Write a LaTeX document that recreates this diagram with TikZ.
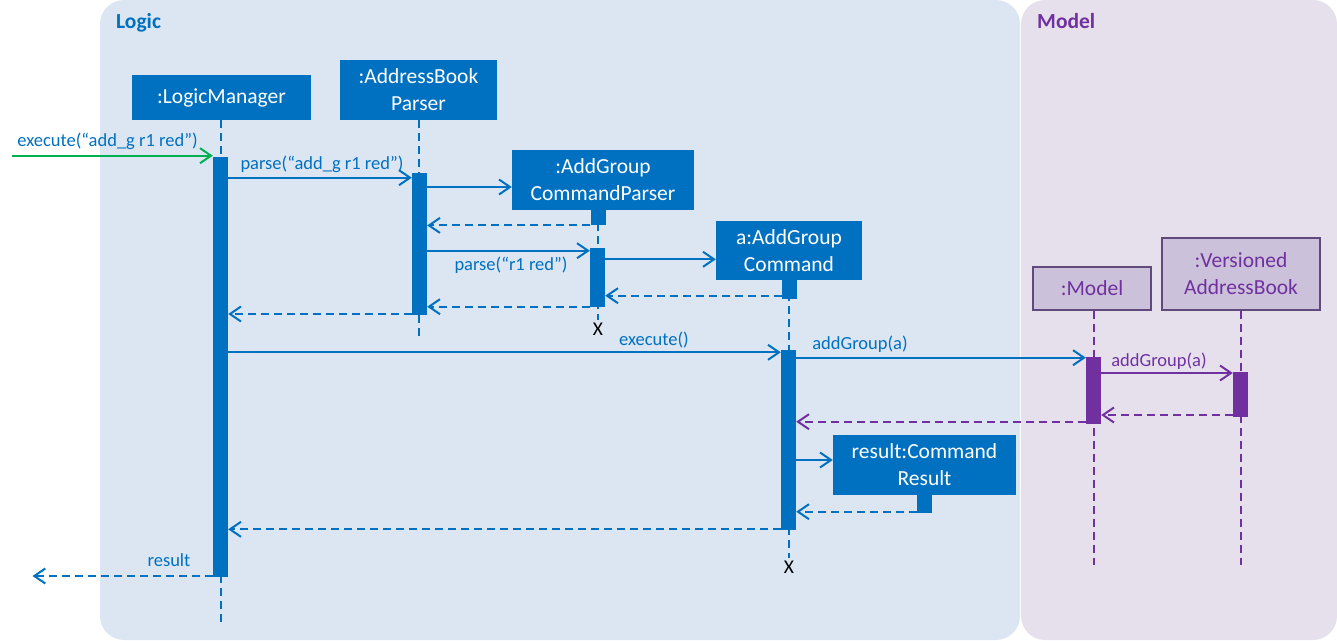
\documentclass[tikz,border=0pt]{standalone}
\usepackage{fontspec}
\setmainfont{Carlito}
\usetikzlibrary{arrows.meta}
\definecolor{cblue}{HTML}{0070C0}
\definecolor{cpurple}{HTML}{7030A0}
\definecolor{cgreen}{HTML}{00B050}
\definecolor{logicbg}{HTML}{DCE6F2}
\definecolor{modelbg}{HTML}{E6E0EC}
\definecolor{mfill}{HTML}{CCC1DA}
\definecolor{mborder}{HTML}{604A7B}
\begin{document}
\begin{tikzpicture}[x=1pt,y=-1pt,
  bluebox/.style={fill=cblue, text=white, inner sep=0pt, align=center, font=\fontsize{21.5}{27}\selectfont},
  purplebox/.style={fill=mfill, draw=mborder, line width=2pt, text=cpurple, inner sep=0pt, align=center, font=\fontsize{21.5}{27}\selectfont},
  act/.style={fill=cblue, minimum width=15pt, inner sep=0pt, anchor=north},
  pact/.style={act, fill=cpurple},
  life/.style={draw=cblue, line width=2pt, dash pattern=on 8pt off 5pt},
  plife/.style={life, draw=cpurple},
  msg/.style={draw=cblue, line width=2pt, -{Straight Barb[length=11pt,width=15pt]}},
  ret/.style={msg, dash pattern=on 8pt off 5pt},
  pmsg/.style={msg, draw=cpurple},
  pret/.style={ret, draw=cpurple},
  gmsg/.style={msg, draw=cgreen},
  lbl/.style={text=cblue, inner sep=0pt, font=\fontsize{18.5}{22}\selectfont},
  plbl/.style={lbl, text=cpurple},
  xmark/.style={text=black, inner sep=0pt, font=\fontsize{19.5}{22}\selectfont},
  title/.style={inner sep=0pt, anchor=base west, font=\fontsize{21.5}{26}\selectfont\bfseries}
]
\useasboundingbox (0,0) rectangle (1337,640);
% panels
\fill[logicbg, rounded corners=24pt] (100,0) rectangle (1020,640);
\fill[modelbg, rounded corners=24pt] (1021,0) rectangle (1337,640);
\node[title, text=cblue] (tlogic) at (116,28) {Logic};
\node[title, text=cpurple] (tmodel) at (1037,28) {Model};

% participant boxes
\node[bluebox, minimum width=179pt, minimum height=45pt] (lm) at (221.5,97.5) {:LogicManager};
\node[bluebox, minimum width=157pt, minimum height=60pt] (abp) at (418.5,90) {:AddressBook\\Parser};
\node[bluebox, minimum width=182pt, minimum height=60pt] (agcp) at (603,180) {:AddGroup\\CommandParser};
\node[bluebox, minimum width=146pt, minimum height=59pt] (agc) at (789,250.5) {a:AddGroup\\Command};
\node[purplebox, minimum width=118pt, minimum height=43pt] (model) at (1092,288.2) {:Model};
\node[purplebox, minimum width=158pt, minimum height=72pt] (vab) at (1241,273.7) {:Versioned\\AddressBook};

% lifeline ends
\coordinate (lmEnd) at (220.5,626);
\coordinate (abpEnd) at (419,337);
\coordinate (agcpEnd) at (598,320);
\coordinate (agcEnd) at (789,558);
\coordinate (modelEnd) at (1094,565);
\coordinate (vabEnd) at (1240.5,565);

% lifelines
\draw[life] (lmEnd |- lm.south) -- (lmEnd);
\draw[life] (abpEnd |- abp.south) -- (abpEnd);
\draw[life] (agcpEnd |- agcp.south) -- (agcpEnd);
\draw[life] (agcEnd |- agc.south) -- (agcEnd);
\draw[plife] (modelEnd |- model.south) -- (modelEnd);
\draw[plife] (vabEnd |- vab.south) -- (vabEnd);

\node[xmark] (x1) at (598,329) {X};
\node[xmark] (x2) at (789,567) {X};

% activations
\node[act, minimum height=420pt] (lmA) at (220.5,157) {};
\node[act, minimum height=142pt] (abpA) at (419.5,173) {};
\node[act, minimum height=15pt] (agcpS) at (598,210) {};
\node[act, minimum height=59pt] (agcpA) at (597.5,248) {};
\node[act, minimum height=18.7pt] (agcS) at (789.5,280) {};
\node[act, minimum height=179.5pt] (agcA) at (788.5,350) {};
\node[pact, minimum height=66.5pt] (modelA) at (1093.5,357) {};
\node[pact, minimum height=45pt] (vabA) at (1240.5,372) {};

\node[bluebox, minimum width=183pt, minimum height=60pt] (res) at (924.5,465) {result:Command\\Result};
\node[act, minimum height=17.7pt] (resS) at (924.5,495) {};

% free ends
\coordinate (start) at (12,155.7);
\coordinate (finish) at (32.5,576);

% messages
\draw[gmsg] (start) -- (lmA.west |- start);
\node[lbl] (l1) at (107.5,141.5) {execute(“add\_g r1 red”)};

\draw[msg] (lmA.east |- 0,177.7) -- (abpA.west |- 0,177.7);
\node[lbl] (l2) at (322,164.5) {parse(“add\_g r1 red”)};

\draw[msg] (abpA.east |- 0,187) -- (agcp.west |- 0,187);
\draw[ret] (agcpS.south west) -- (abpA.east |- agcpS.south west);

\draw[msg] (abpA.east |- 0,250.7) -- (agcpA.west |- 0,250.7);
\node[lbl] (l3) at (511,265) {parse(“r1 red”)};

\draw[msg] (agcpA.east |- 0,259.3) -- (agc.west |- 0,259.3);
\draw[ret] (agcS.west |- 0,295.7) -- (agcpA.east |- 0,295.7);
\draw[ret] (agcpA.west |- 0,306.7) -- (abpA.east |- 0,306.7);
\draw[ret] (abpA.west |- 0,314) -- (lmA.east |- 0,314);

\draw[msg] (lmA.east |- 0,352.3) -- (agcA.west |- 0,352.3);
\node[lbl] (l4) at (654,340) {execute()};

\draw[msg] (agcA.east |- 0,357.7) -- (modelA.west |- 0,357.7);
\node[lbl] (l5) at (860,344.5) {addGroup(a)};

\draw[pmsg] (modelA.east |- 0,373) -- (vabA.west |- 0,373);
\node[plbl] (l6) at (1159,361.5) {addGroup(a)};

\draw[pret] (vabA.west |- 0,415) -- (modelA.east |- 0,415);
\draw[pret] (modelA.west |- 0,421.7) -- (agcA.east |- 0,421.7);

\draw[msg] (agcA.east |- 0,460) -- (res.west |- 0,460);
\draw[ret] (resS.west |- 0,511.7) -- (agcA.east |- 0,511.7);
\draw[ret] (agcA.west |- 0,529.3) -- (lmA.east |- 0,529.3);

\draw[ret] (lmA.west |- finish) -- (finish);
\node[lbl] (l7) at (169,560) {result};
\end{tikzpicture}
\end{document}
